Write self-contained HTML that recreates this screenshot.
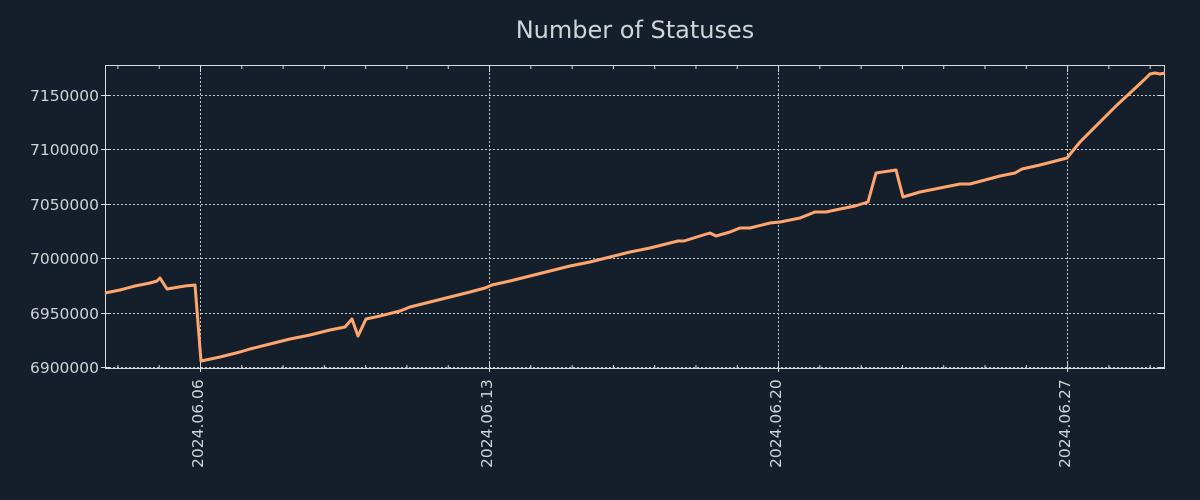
<!DOCTYPE html>
<html><head><meta charset="utf-8"><style>
html,body{margin:0;padding:0;background:#151f2b;}
svg{display:block}
text{font-family:"DejaVu Sans","Liberation Sans",sans-serif;fill:#d0d4d9}
</style></head><body>
<svg width="1200" height="500" viewBox="0 0 1200 500" xmlns="http://www.w3.org/2000/svg">
<rect width="1200" height="500" fill="#151f2b"/>
<text x="635" y="38" font-size="24" text-anchor="middle">Number of Statuses</text>
<g stroke="#c8ccd0" stroke-width="1" stroke-dasharray="2,2">
<line x1="105" x2="1164" y1="95.5" y2="95.5"/>
<line x1="105" x2="1164" y1="149.5" y2="149.5"/>
<line x1="105" x2="1164" y1="204.5" y2="204.5"/>
<line x1="105" x2="1164" y1="258.5" y2="258.5"/>
<line x1="105" x2="1164" y1="313.5" y2="313.5"/>
<line x1="105" x2="1164" y1="367.5" y2="367.5"/>
<line x1="200.5" x2="200.5" y1="65" y2="368"/>
<line x1="489.5" x2="489.5" y1="65" y2="368"/>
<line x1="778.5" x2="778.5" y1="65" y2="368"/>
<line x1="1067.5" x2="1067.5" y1="65" y2="368"/>
</g>
<g stroke="#d8dbde" stroke-width="1" id="ticks">
</g>
<rect x="105.5" y="65.5" width="1059" height="303" fill="none" stroke="#d8dbde" stroke-width="1"/>
<polyline fill="none" stroke="#ffa66e" stroke-width="3" stroke-linejoin="round" points="105,293 120,290 135,286 150,283 157,281 160,278 167,289 185,286 195,285 201,361 220,357 240,352 250,349 270,344 290,339 310,335 330,330 345,327 352,319 358,336 366,319 380,316 400,311 410,307 430,302 450,297 470,292 485,288 492,285 510,281 530,276 550,271 570,266 590,262 610,257 630,252 650,248 670,243 678,241 684,241 700,236 710,233 716,236 730,232 740,228 750,228 770,223 780,222 800,218 815,212 822,212 826,212 840,209 855,206 868,202 876,173 896,170 903,197 920,192 940,188 960,184 970,184 1000,176 1015,173 1022,169 1040,165 1067,158 1080,142 1100,122 1117,105 1130,93 1145,79 1150,74 1155,73 1160,74 1165,73"/>
<g font-size="15.5" text-anchor="end">
<text x="99" y="101">7150000</text>
<text x="99" y="155">7100000</text>
<text x="99" y="210">7050000</text>
<text x="99" y="264">7000000</text>
<text x="99" y="319">6950000</text>
<text x="99" y="373">6900000</text>
</g>
<g font-size="15.5">
<text transform="translate(203,468) rotate(-90)">2024.06.06</text>
<text transform="translate(492,468) rotate(-90)">2024.06.13</text>
<text transform="translate(781,468) rotate(-90)">2024.06.20</text>
<text transform="translate(1070,468) rotate(-90)">2024.06.27</text>
</g>
</svg>
<script>
var g=document.getElementById('ticks'),ns='http://www.w3.org/2000/svg';
function L(x1,y1,x2,y2){var l=document.createElementNS(ns,'line');l.setAttribute('x1',x1);l.setAttribute('y1',y1);l.setAttribute('x2',x2);l.setAttribute('y2',y2);g.appendChild(l);}
for(var i=-2;i<=23;i++){var x=200.5+i*41.29;if(x<106||x>1164)continue;var major=((i%7)+7)%7==0;var s=major?6:3;L(x,368,x,368-s);L(x,66,x,66+s);if(major)L(x,368,x,372);}
[95.5,149.5,204.5,258.5,313.5,367.5].forEach(function(y){L(105,y,111,y);L(1164,y,1158,y);L(101,y,105,y);});
</script>
</body></html>
